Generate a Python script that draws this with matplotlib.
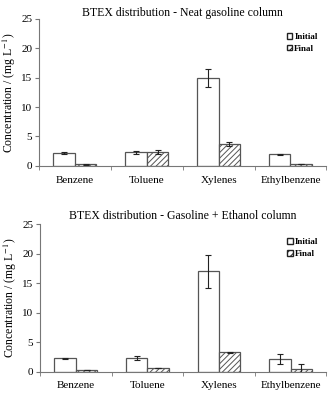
import numpy as np
import matplotlib.pyplot as plt
from matplotlib.patches import Patch

plt.rcParams['font.family'] = 'Liberation Serif'
plt.rcParams['mathtext.fontset'] = 'stix'
plt.rcParams['hatch.linewidth'] = 0.7
plt.rcParams['hatch.color'] = '#333333'

compounds = ['Benzene', 'Toluene', 'Xylenes', 'Ethylbenzene']

# Neat gasoline column
neat_initial = [2.15, 2.3, 15.0, 2.0]
neat_initial_err = [0.2, 0.3, 1.5, 0.08]
neat_final = [0.3, 2.3, 3.7, 0.35]
neat_final_err = [0.08, 0.35, 0.3, 0.05]

# Gasoline + ethanol column
eth_initial = [2.25, 2.35, 17.0, 2.1]
eth_initial_err = [0.1, 0.35, 2.85, 0.85]
eth_final = [0.28, 0.62, 3.3, 0.45]
eth_final_err = [0.05, 0.05, 0.1, 0.75]

titles = ['BTEX distribution - Neat gasoline column',
          'BTEX distribution - Gasoline + Ethanol column']

fig = plt.figure(figsize=(3.28, 3.94), dpi=100)
ax1 = fig.add_axes([0.119, 0.579, 0.876, 0.373])
ax2 = fig.add_axes([0.122, 0.057, 0.873, 0.374])

edge = '#555555'
w = 0.3
x = np.arange(len(compounds))

panels = [(ax1, neat_initial, neat_initial_err, neat_final, neat_final_err, titles[0], 2),
          (ax2, eth_initial, eth_initial_err, eth_final, eth_final_err, titles[1], 4)]

for ax, ini, ini_e, fin, fin_e, title, tpad in panels:
    ax.bar(x - w / 2, ini, w, color='white', edgecolor=edge, linewidth=0.9,
           yerr=ini_e, error_kw=dict(ecolor='#222222', elinewidth=0.8, capsize=2.5, capthick=0.8))
    ax.bar(x + w / 2, fin, w, color='white', edgecolor=edge, linewidth=0.9, hatch='//////',
           yerr=fin_e, error_kw=dict(ecolor='#222222', elinewidth=0.8, capsize=2.5, capthick=0.8))
    ax.set_xlim(-0.5, 3.5)
    ax.set_ylim(0, 25)
    ax.set_yticks([0, 5, 10, 15, 20, 25])
    ax.set_xticks(x)
    ax.set_xticklabels(compounds, fontsize=8)
    ax.tick_params(axis='x', length=0, pad=7)
    ax.set_xticks(np.arange(-0.5, 4, 1), minor=True)
    ax.tick_params(axis='x', which='minor', length=3, color='#777777', direction='out')
    ax.tick_params(axis='y', labelsize=8, length=3, color='#777777', pad=2)
    for s in ['top', 'right']:
        ax.spines[s].set_visible(False)
    for s in ['left', 'bottom']:
        ax.spines[s].set_color('#777777')
        ax.spines[s].set_linewidth(0.8)
    ax.set_title(title, fontsize=8.5, pad=tpad)
    ax.set_ylabel('Concentration / (mg L$^{-1}$)', fontsize=8.5, labelpad=2)
    handles = [Patch(facecolor='white', edgecolor='#222222', linewidth=1.0, label='Initial'),
               Patch(facecolor='white', edgecolor='#222222', linewidth=1.0, hatch='/////', label='Final')]
    ax.legend(handles=handles, loc='upper left', bbox_to_anchor=(0.835, 0.96), frameon=False,
              handlelength=0.6, handleheight=0.6, handletextpad=0.2,
              labelspacing=0.4, prop={'weight': 'bold', 'size': 6.5})

fig.savefig('out.png', dpi=100)
